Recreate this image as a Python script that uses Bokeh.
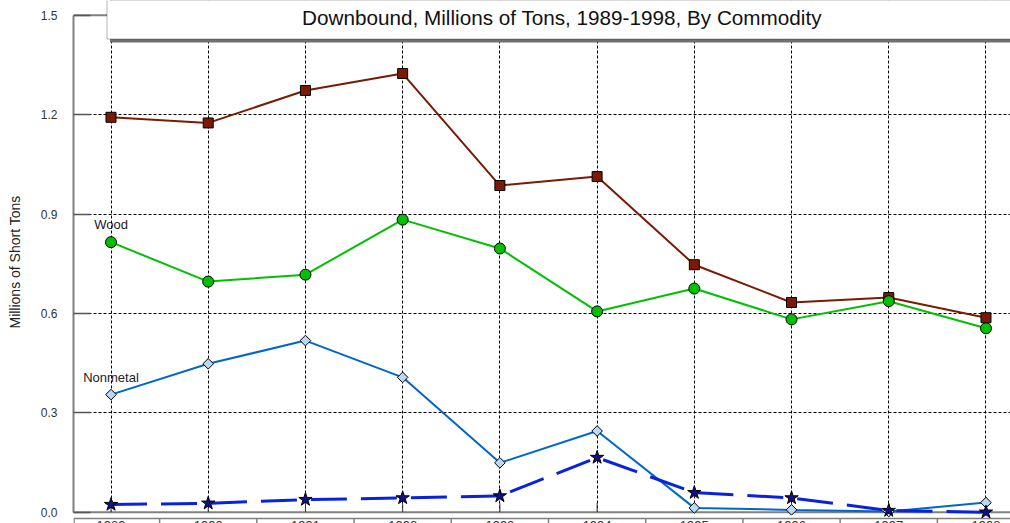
import math
from bokeh.plotting import figure
from bokeh.models import Range1d, FixedTicker, Grid, Span, BoxAnnotation, Label, PrintfTickFormatter
from bokeh.core.properties import value
from bokeh.embed import file_html
from bokeh.resources import INLINE

# ---------------- data ----------------
YEARS = [1989, 1990, 1991, 1992, 1993, 1994, 1995, 1996, 1997, 1998]
YEAR_LABELS = ["1989", "1990", "1991", "1992", "1993", "1994", "1995", "1996", "1997", "1998"]
SERIES_RED = [1.192, 1.175, 1.273, 1.324, 0.986, 1.013, 0.747, 0.633, 0.648, 0.587]
WOOD = [0.815, 0.696, 0.717, 0.883, 0.796, 0.606, 0.675, 0.582, 0.637, 0.555]
NONMETAL = [0.355, 0.448, 0.518, 0.407, 0.149, 0.245, 0.013, 0.007, 0.002, 0.029]
SERIES_STAR = [0.023, 0.027, 0.038, 0.043, 0.049, 0.165, 0.059, 0.043, 0.005, 0.0]
Y_TICKS = [0.0, 0.3, 0.6, 0.9, 1.2, 1.5]
Y_GRID = [0.3, 0.6, 0.9, 1.2]
TITLE = "Downbound, Millions of Tons, 1989-1998, By Commodity"
Y_LABEL = "Millions of Short Tons"

# ---------------- layout ----------------
W, H = 1010, 523
BORDER_LEFT = 73
PX_PER_YEAR = 97.22
PX_PER_UNIT = 331.3
FIRST_YEAR_X = 110.5
ZERO_Y = 511.7

frame_w = W - BORDER_LEFT
x_start = YEARS[0] - (FIRST_YEAR_X - BORDER_LEFT) / PX_PER_YEAR
x_end = x_start + frame_w / PX_PER_YEAR
y_start = -(H - ZERO_Y) / PX_PER_UNIT
y_end = y_start + H / PX_PER_UNIT


def sx(px):
    return YEARS[0] + (px - FIRST_YEAR_X) / PX_PER_YEAR


def sy(py):
    return (ZERO_Y - py) / PX_PER_UNIT


FONT = "Liberation Sans"

p = figure(width=W, height=H, output_backend="svg", toolbar_location=None,
           x_range=Range1d(x_start, x_end), y_range=Range1d(y_start, y_end),
           x_axis_location=None, min_border_left=BORDER_LEFT, min_border_right=0,
           min_border_top=0, min_border_bottom=0)
p.outline_line_color = None
p.background_fill_color = "white"
p.border_fill_color = "white"

# grids
p.center = [r for r in p.center if not isinstance(r, Grid)]
p.add_layout(Grid(dimension=0, ticker=FixedTicker(ticks=YEARS), grid_line_color="black",
                  grid_line_dash="3 2", grid_line_width=1), "center")
p.add_layout(Grid(dimension=1, ticker=FixedTicker(ticks=Y_GRID), grid_line_color="black",
                  grid_line_dash="3 2", grid_line_width=1), "center")
# blank strip under the plot area (category label row)
p.add_layout(BoxAnnotation(left=x_start, right=x_end, top=0, bottom=y_start,
                           fill_color="white", fill_alpha=1, line_color=None, level="underlay"))

# y axis
ax = p.yaxis[0]
ax.ticker = FixedTicker(ticks=Y_TICKS)
ax.formatter = PrintfTickFormatter(format="%.1f")
ax.bounds = (0, 1.5)
ax.axis_line_color = "#808080"
ax.axis_line_width = 2
ax.major_tick_in = 17
ax.major_tick_out = 0
ax.major_tick_line_color = "#555555"
ax.major_tick_line_width = 1.5
ax.minor_tick_line_color = None
ax.major_label_standoff = 16
ax.major_label_text_font = FONT
ax.major_label_text_font_size = "12px"
ax.major_label_text_color = "#333333"
ax.axis_label = Y_LABEL
ax.axis_label_text_font = FONT
ax.axis_label_text_font_size = "14px"
ax.axis_label_text_font_style = "normal"
ax.axis_label_text_color = "#222222"
ax.axis_label_standoff = 15

# frame lines
p.add_layout(Span(location=0, dimension="width", line_color="#808080", line_width=2, level="underlay"))
p.add_layout(Span(location=1.5, dimension="width", line_color="#808080", line_width=2, level="underlay"))

# category label row below the plot
row_top = sy(518)
p.add_layout(Span(location=row_top, dimension="width", line_color="#808080", line_width=1.5, level="underlay"))
seps = [x_start + 0.5 / PX_PER_YEAR] + [(a + b) / 2 for a, b in zip(YEARS[:-1], YEARS[1:])]
p.segment(x0=seps, y0=[row_top] * len(seps), x1=seps, y1=[y_start] * len(seps),
          line_color="#808080", line_width=1.5)
p.text(x=YEARS, y=[sy(520)] * len(YEARS), text=YEAR_LABELS, text_font=value(FONT),
       text_font_size="13px", text_align="center", text_baseline="top", text_color="#333333")
# inward x ticks
tick_len = 9 / PX_PER_UNIT
p.segment(x0=YEARS, y0=[0] * len(YEARS), x1=YEARS, y1=[tick_len] * len(YEARS),
          line_color="#333333", line_width=1)

# series
p.line(YEARS, SERIES_RED, line_color="#7b1a02", line_width=2)
p.scatter(YEARS, SERIES_RED, marker="square", size=10, fill_color="#7b1a02", line_color="black", line_width=1)

p.line(YEARS, WOOD, line_color="#00c000", line_width=2)
p.scatter(YEARS, WOOD, marker="circle", size=11, fill_color="#00c000", line_color="black", line_width=1)

p.line(YEARS, NONMETAL, line_color="#0066cc", line_width=2)
p.scatter(YEARS, NONMETAL, marker="square", angle=math.pi / 4, size=7.5, fill_color="#b8d8f8",
          line_color="black", line_width=1)

p.line(YEARS, SERIES_STAR, line_color="#0a22dd", line_width=3, line_dash="36 14")
p.scatter(YEARS, SERIES_STAR, marker="star", size=14, fill_color="#10108a", line_color="black", line_width=1)

# series labels
p.text(x=[YEARS[0], YEARS[0]], y=[WOOD[0], NONMETAL[0]], text=["Wood", "Nonmetal"],
       text_font=value(FONT), text_font_size="13px", text_align="center",
       text_baseline="middle", y_offset=-17.5, text_color="#222222")

# title box with shadow (open to the top and right edges)
p.add_layout(BoxAnnotation(left=sx(109.5), right=x_end + 2, bottom=sy(42), top=y_end + 1,
                           fill_color="#707070", fill_alpha=1, line_color=None))
p.add_layout(BoxAnnotation(left=sx(106.5), right=x_end + 2, bottom=sy(38.5), top=y_end + 1,
                           fill_color="white", fill_alpha=1, line_color="black", line_width=1))
p.add_layout(Label(x=sx(561.5), y=sy(17), text=TITLE, text_align="center",
                   text_baseline="middle", text_font=FONT, text_font_size="20.7px",
                   text_color="#111111"))

open("out.html", "w").write(file_html(p, INLINE))
